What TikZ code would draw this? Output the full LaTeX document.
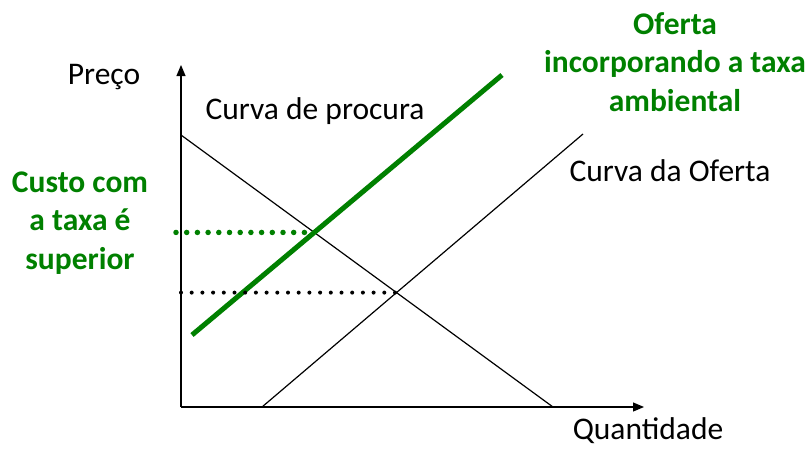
\documentclass[tikz,border=0pt]{standalone}
\usepackage{fontspec}
\setmainfont{Carlito}
\usepackage{tikz}
\usetikzlibrary{arrows.meta,positioning,calc,intersections}
\definecolor{taxgreen}{RGB}{0,128,0}

\begin{document}
\begin{tikzpicture}[x=1pt, y=-1pt, line width=1.2pt, >={Triangle[length=11pt,width=9pt]},
	lbl/.style={font=\fontsize{31.5}{38}\selectfont},
	glbl/.style={font=\fontsize{31.5}{38.5}\selectfont\bfseries, text=taxgreen, align=center}]
	
	\useasboundingbox (0,0) rectangle (812,448);
	
	% axes
	\coordinate (origin) at (181,407);
	\coordinate (ytop) at (181,65);
	\coordinate (xend) at (644,407);
	\draw [->] (origin) -- (ytop);
	\draw [->] (origin) -- (xend);
	
	% curves
	\coordinate (d1) at (181,135);
	\coordinate (d2) at (553,407);
	\coordinate (s1) at (262,407);
	\coordinate (s2) at (583,134);
	\coordinate (g1) at (192,335);
	\coordinate (g2) at (502,75);
	\draw [name path=demand] (d1) -- (d2);
	\draw [name path=supply] (s1) -- (s2);
	\draw [name path=green, taxgreen, line width=5pt] (g1) -- (g2);
	
	\path [name intersections={of=demand and supply, by=eq}];
	\path [name intersections={of=demand and green, by=eqtax}];
	
	% dotted levels
	\coordinate (py) at (181,0 |- eq);
	\coordinate (pt) at (176,0 |- eqtax);
	\draw [line width=4pt, line cap=round, dash pattern=on 0pt off 10.7pt] (py) -- (eq);
	\draw [taxgreen, line width=5.5pt, line cap=round, dash pattern=on 0pt off 10.7pt] (pt) -- (eqtax);
	
	% labels
	\node [lbl] (preco) at (104,77) {Preço};
	\node [lbl] (quant) at (648,431) {Quantidade};
	\node [lbl] (procura) at (315,111) {Curva de procura};
	\node [lbl] (oferta) at (670,171) {Curva da Oferta};
	\node [glbl] (taxa) at (675,62) {Oferta\\incorporando a taxa\\ambiental};
	\node [glbl] (custo) at (80,223) {Custo com\\a taxa é\\superior};
\end{tikzpicture}
\end{document}
